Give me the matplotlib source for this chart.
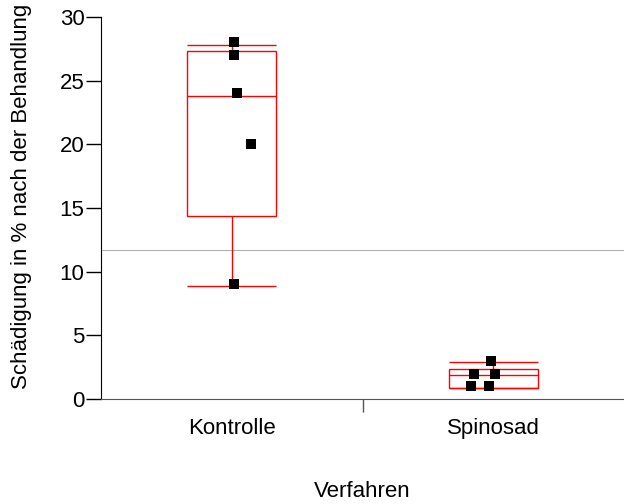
import numpy as np
import matplotlib.pyplot as plt

plt.rcParams['font.family'] = ['Liberation Sans', 'DejaVu Sans']

categories = ['Kontrolle', 'Spinosad']
# Einzelwerte (Schädigung in %)
kontrolle = [28, 27, 24, 20, 9]
spinosad = [3, 2, 2, 1, 1]
# leichte horizontale Streuung der Punkte
kontrolle_jitter = [0.008, 0.008, 0.018, 0.074, 0.009]
spinosad_jitter = [-0.008, -0.072, 0.008, -0.087, -0.015]
# Boxplot-Kennwerte: unteres Whisker, Q1, Median, Q3, oberes Whisker
kontrolle_box = [8.87, 14.37, 23.83, 27.3, 27.83]
spinosad_box = [0.89, 0.89, 1.88, 2.36, 2.88]
grand_mean = 11.7

fs = 16
fig = plt.figure(figsize=(6.24, 5.04), dpi=100)
ax = fig.add_axes([0.162, 0.2083, 0.838, 0.758])

half = 0.17
for pos, (lo, q1, med, q3, hi) in enumerate([kontrolle_box, spinosad_box]):
    ax.add_patch(plt.Rectangle((pos - half, q1), 2 * half, q3 - q1,
                               fill=False, edgecolor='red', lw=1, zorder=2))
    ax.hlines([med, lo, hi], pos - half, pos + half, color='red', lw=1, zorder=2)
    ax.vlines(pos, q3, hi, color='red', lw=1, zorder=2)
    ax.vlines(pos, lo, q1, color='red', lw=1, zorder=2)

ax.axhline(grand_mean, color='#b0b0b0', lw=0.8, zorder=1)

ax.scatter(np.array(kontrolle_jitter) + 0, kontrolle, marker='s', s=55,
           color='black', zorder=3, linewidths=0)
ax.scatter(np.array(spinosad_jitter) + 1, spinosad, marker='s', s=55,
           color='black', zorder=3, linewidths=0)

ax.set_xlim(-0.5, 1.5)
ax.set_ylim(0, 30)
ax.set_yticks([0, 5, 10, 15, 20, 25, 30])
ax.tick_params(axis='y', length=11, width=1, pad=1, labelsize=fs)

ax.set_xticks([0, 1])
ax.set_xticklabels(categories)
ax.tick_params(axis='x', which='major', length=0, pad=14, labelsize=fs)
ax.set_xticks([0.5], minor=True)
ax.tick_params(axis='x', which='minor', length=9, width=1, color='#555555')

ax.spines['top'].set_visible(False)
ax.spines['right'].set_visible(False)
ax.spines['bottom'].set_color('#555555')

ax.set_ylabel('Schädigung in % nach der Behandlung', fontsize=fs, labelpad=20, y=0.53)
ax.set_xlabel('Verfahren', fontsize=fs, labelpad=30)

fig.savefig('out.png', dpi=100)
